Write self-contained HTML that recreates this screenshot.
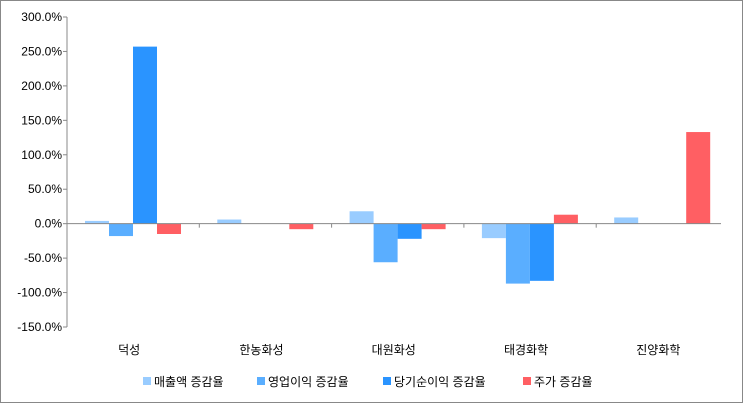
<!DOCTYPE html>
<html><head><meta charset="utf-8"><style>
body{margin:0;background:#fff}
#c{position:relative;width:741px;height:401px;border:1px solid #888;overflow:hidden}
svg text{font-family:"Liberation Sans","Noto Sans CJK KR",sans-serif;font-size:12px;fill:#000}
</style></head><body>
<div id="c">
<svg id="s" width="741" height="401"></svg>
</div>
<script>
const categories=["덕성","한농화성","대원화성","태경화학","진양화학"];
const seriesNames=["매출액 증감율","영업이익 증감율","당기순이익 증감율","주가 증감율"];
const sales=[4,6,18,-21,9];
const opIncome=[-18,0,-56,-87,0];
const netIncome=[257,0,-22,-83,0];
const stock=[-15,-8,-8,13,133];
const yTicks=[300,250,200,150,100,50,0,-50,-100,-150];
const colors=["#99ccff","#5aaeff","#2a94ff","#ff5f63"];
const series=[sales,opIncome,netIncome,stock];
const NS="http://www.w3.org/2000/svg";
const s=document.getElementById('s');
const x0=66,yTop=16,yBot=326,vMax=300,vMin=-150;
const gw=132.3;
const y=v=>yTop+(vMax-v)/(vMax-vMin)*(yBot-yTop);
function el(t,a){const e=document.createElementNS(NS,t);for(const k in a)e.setAttribute(k,a[k]);s.appendChild(e);return e;}
yTicks.forEach(v=>{
 const l=el('line',{x1:x0-4,x2:x0,y1:y(v),y2:y(v),stroke:'#888'});
 
 
 const t=el('text',{x:x0-5,y:y(v)+4,'text-anchor':'end'});t.textContent=v.toFixed(1)+'%';
 
 
});
categories.forEach((c,i)=>{
 const gx=x0+i*gw;
 series.forEach((d,j)=>{
  const v=d[i];if(v===0)return;
  const r=el('rect',{x:gx+18+j*24,y:Math.min(y(v),y(0)),width:24,height:Math.abs(y(v)-y(0)),fill:colors[j]});
  
  
 });
 if(i<categories.length-1){
 const tk=el('line',{x1:gx+gw,x2:gx+gw,y1:y(0),y2:y(0)+4,stroke:'#888'});
 
 
 }
 const t=el('text',{x:gx+gw/2-4,y:353,'text-anchor':'middle'});t.textContent=c;
 
 
});
const ax=el('line',{x1:x0,x2:x0,y1:yTop,y2:yBot,stroke:'#888'});


const zx=el('line',{x1:x0,x2:720,y1:y(0),y2:y(0),stroke:'#888'});


const lx=[142,256,382,522];
seriesNames.forEach((n,j)=>{
 const r=el('rect',{x:lx[j],y:376,width:8,height:8,fill:colors[j]});
 
 
 const t=el('text',{x:lx[j]+11,y:385});t.textContent=n;
 
 
});
</script>
</body></html>
